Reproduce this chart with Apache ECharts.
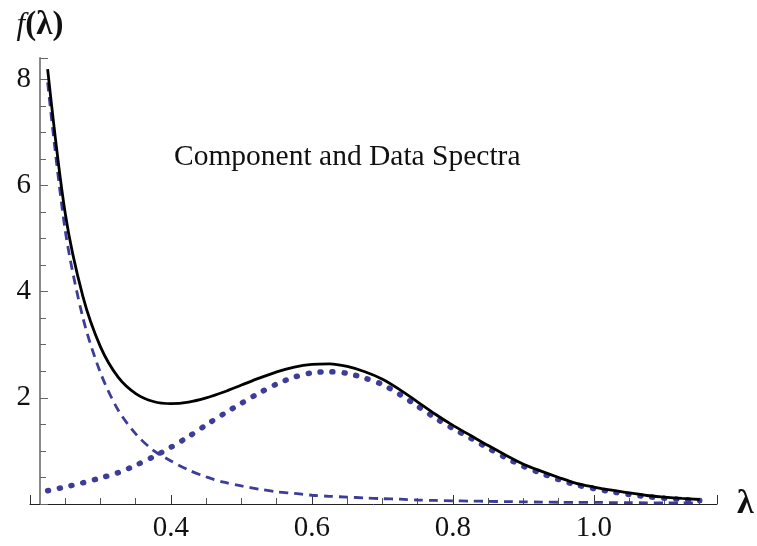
<!DOCTYPE html>
<html><head><meta charset="utf-8">
<script src="https://cdn.jsdelivr.net/npm/echarts@6/dist/echarts.min.js"></script>
<style>html,body{margin:0;padding:0;background:#fff}#c{width:757px;height:546px}</style>
</head><body><div id="c"></div>
<script>
const lambdaValues = [0.225,0.25,0.275,0.30,0.325,0.35,0.375,0.40,0.425,0.45,0.475,0.50,0.525,0.55,0.575,0.60,0.625,0.65,0.675,0.70,0.725,0.75,0.775,0.80,0.825,0.85,0.875,0.90,0.925,0.95,0.975,1.00,1.025,1.05,1.075,1.10,1.125,1.15];
const dataSpectrum = [8.19,5.47,3.91,2.96,2.39,2.08,1.93,1.89,1.92,2.00,2.11,2.24,2.37,2.49,2.58,2.63,2.64,2.59,2.49,2.35,2.15,1.92,1.69,1.48,1.29,1.10,0.92,0.75,0.62,0.50,0.39,0.32,0.26,0.21,0.16,0.13,0.105,0.085];
const componentDecay = [7.94,5.15,3.51,2.47,1.77,1.32,1.01,0.81,0.64,0.51,0.41,0.34,0.28,0.23,0.20,0.165,0.145,0.13,0.115,0.10,0.09,0.075,0.067,0.06,0.055,0.05,0.045,0.04,0.036,0.033,0.03,0.03,0.027,0.025,0.022,0.02,0.02,0.02];
const componentPeak = [0.25,0.32,0.40,0.49,0.59,0.73,0.89,1.07,1.27,1.49,1.70,1.90,2.09,2.26,2.39,2.47,2.49,2.46,2.37,2.25,2.06,1.84,1.62,1.42,1.24,1.05,0.87,0.71,0.58,0.46,0.36,0.29,0.23,0.18,0.14,0.11,0.085,0.065];
const xTickLabels = ['0.4','0.6','0.8','1.0'];
const yTickLabels = ['2','4','6','8'];
const titleText = 'Component and Data Spectra';

const pair = arr => lambdaValues.map((x,i)=>[x,arr[i]]);
const blue = '#3d3d99';
const serif = '"Liberation Serif","DejaVu Serif",serif';

const chart = echarts.init(document.getElementById('c'), null, {renderer:'canvas'});
chart.setOption({
  animation:false,
  backgroundColor:'#fff',
  title:{text:titleText,left:169,top:137,textStyle:{fontFamily:serif,fontSize:29.5,fontWeight:'normal',color:'#111'}},
  grid:{left:30,right:40,top:58,bottom:42,containLabel:false},
  xAxis:{type:'value',min:0.2,max:1.1745,interval:0.2,
    name:'λ',nameLocation:'end',nameGap:20,
    nameTextStyle:{fontFamily:serif,fontSize:34,fontWeight:'bold',color:'#111',verticalAlign:'middle',align:'left'},
    axisLine:{onZero:false,lineStyle:{color:'#222',width:1}},
    axisTick:{inside:true,length:9,lineStyle:{color:'#333'}},
    minorTick:{show:true,splitNumber:4,length:6,lineStyle:{color:'#555'}},
    splitLine:{show:false},
    axisLabel:{showMaxLabel:false,fontFamily:serif,fontSize:29,color:'#111',margin:10,
      formatter:v=>{const s=v.toFixed(1);return xTickLabels.includes(s)?s:'';}}
  },
  yAxis:{type:'value',min:0,max:8.4,interval:2,offset:-10,
    name:'{i|f}{n|(λ)}',nameLocation:'end',nameGap:16,
    nameTextStyle:{align:'center',padding:[0,0,0,0],rich:{
      i:{fontFamily:serif,fontStyle:'italic',fontSize:31,color:'#111'},
      n:{fontFamily:serif,fontSize:33,fontWeight:'bold',color:'#111'}}},
    axisLine:{show:true,lineStyle:{color:'#8a8a8a',width:2}},
    axisTick:{inside:true,length:8,lineStyle:{color:'#666'}},
    minorTick:{show:true,splitNumber:4,length:6,lineStyle:{color:'#666'}},
    splitLine:{show:false},
    axisLabel:{showMaxLabel:false,fontFamily:serif,fontSize:29,color:'#111',margin:9,
      formatter:v=>{const s=String(Math.round(v));return (Math.abs(v-Math.round(v))<1e-6 && yTickLabels.includes(s))?s:'';}}
  },
  series:[
    {type:'line',data:pair(componentDecay),smooth:0.3,showSymbol:false,z:2,
      lineStyle:{color:blue,width:2.8,type:[9,6]}},
    {type:'line',data:pair(componentPeak),smooth:0.3,showSymbol:false,z:2,
      lineStyle:{color:blue,width:5.5,type:[1,11],cap:'round'}},
    {type:'line',data:pair(dataSpectrum),smooth:0.3,showSymbol:false,z:3,
      lineStyle:{color:'#000',width:2.8}}
  ]
});
</script></body></html>
